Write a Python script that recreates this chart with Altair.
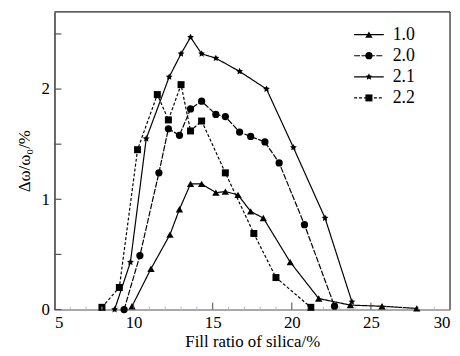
import altair as alt
import pandas as pd

series = ["1.0", "2.0", "2.1", "2.2"]

x10 = [9.9, 11.1, 12.3, 12.9, 13.6, 14.3, 15.2, 15.8, 16.6, 17.4, 18.2, 19.9, 21.7, 23.7, 25.7, 27.9]
y10 = [0.03, 0.37, 0.68, 0.91, 1.14, 1.14, 1.06, 1.07, 1.04, 0.89, 0.83, 0.43, 0.10, 0.04, 0.03, 0.01]

x20 = [9.4, 10.4, 11.6, 12.2, 12.9, 13.6, 14.3, 15.2, 15.8, 16.7, 17.4, 18.3, 19.2, 20.8, 22.7]
y20 = [0.0, 0.49, 1.24, 1.64, 1.58, 1.82, 1.89, 1.77, 1.75, 1.61, 1.57, 1.52, 1.33, 0.77, 0.03]

x21 = [8.8, 9.8, 10.8, 12.25, 13.0, 13.6, 14.3, 15.2, 16.7, 18.4, 20.1, 22.1, 23.8]
y21 = [0.0, 0.43, 1.55, 2.11, 2.32, 2.47, 2.32, 2.28, 2.16, 2.0, 1.47, 0.83, 0.07]

x22 = [8.0, 9.1, 10.25, 11.5, 12.2, 13.0, 13.6, 14.3, 15.8, 17.6, 19.0, 21.2]
y22 = [0.02, 0.2, 1.45, 1.95, 1.72, 2.04, 1.62, 1.71, 1.24, 0.69, 0.29, 0.02]

x_labels = [5, 10, 15, 20, 25, 30]
x_minor = [6, 7, 8, 9, 11, 12, 13, 14, 16, 17, 18, 19, 21, 22, 23, 24, 26, 27, 28, 29]
y_labels = [0, 1, 2]
y_ticks = [0, 0.5, 1, 1.5, 2, 2.5]

rows = []
for name, xs_, ys_ in zip(series, [x10, x20, x21, x22], [y10, y20, y21, y22]):
    for i, (a, b) in enumerate(zip(xs_, ys_)):
        rows.append({"series": name, "x": a, "y": b, "order": i})
df = pd.DataFrame(rows)

W, H = 400, 301
FONT = "Liberation Serif"
STAR = ("M0,-1L0.294,-0.405L0.951,-0.309L0.476,0.155L0.588,0.809L0,0.5"
        "L-0.588,0.809L-0.476,0.155L-0.951,-0.309L-0.294,-0.405Z")
shapes = ["triangle-up", "circle", STAR, "square"]
sizes = [55, 50, 110, 45]
dashes = [[1, 0], [6, 1.5], [1, 0], [3, 2]]

xsc = alt.Scale(domain=[5, 30], nice=False)
ysc = alt.Scale(domain=[0, 2.7], nice=False)

X = alt.X("x:Q", scale=xsc, axis=alt.Axis(values=x_labels, title="Fill ratio of silica/%", ticks=False,
                                          grid=False, domainColor="#aaaaaa", domainWidth=2,
                                          labelPadding=5, titlePadding=3))
Y = alt.Y("y:Q", scale=ysc, axis=alt.Axis(values=y_labels, title="Δω/ω₀/%", ticks=False, grid=False,
                                          domainColor="black", domainWidth=1.2,
                                          labelPadding=5, titlePadding=8))
Yn = alt.Y("y:Q", scale=ysc, axis=None)

dash_enc = alt.StrokeDash("series:N", scale=alt.Scale(domain=series, range=dashes), legend=None)
shape_enc = alt.Shape("series:N", scale=alt.Scale(domain=series, range=shapes), legend=None)
size_enc = alt.Size("series:N", scale=alt.Scale(domain=series, range=sizes), legend=None)

lines = alt.Chart(df).mark_line(color="black", strokeWidth=1.2).encode(
    x=X, y=Y, strokeDash=dash_enc, detail="series:N", order="order:Q")
points = alt.Chart(df).mark_point(filled=True, color="black", opacity=1).encode(
    x=X, y=Yn, shape=shape_enc, size=size_enc)

ytk = alt.Chart(pd.DataFrame({"y": y_ticks})).mark_rule(color="#555555", strokeWidth=1.2).encode(
    y=Yn, x=alt.value(0), x2=alt.value(7))
xtk = alt.Chart(pd.DataFrame({"x": x_labels[1:-1]})).mark_rule(color="#444444", strokeWidth=1).encode(
    x=X, y=alt.value(H), y2=alt.value(H - 7))
xmn = alt.Chart(pd.DataFrame({"x": x_minor})).mark_rule(color="#bbbbbb", strokeWidth=1).encode(
    x=X, y=alt.value(H), y2=alt.value(H - 3))

top = alt.Chart(pd.DataFrame({"a": [0]})).mark_rule(color="#222222", strokeWidth=1.2).encode(
    x=alt.value(0), x2=alt.value(W), y=alt.value(0))
right = alt.Chart(pd.DataFrame({"a": [0]})).mark_rule(color="#222222", strokeWidth=1.2).encode(
    x=alt.value(W), y=alt.value(0), y2=alt.value(H))

leg = pd.DataFrame({"series": series, "idx": [0, 1, 2, 3]})
LY = alt.Y("idx:Q", scale=alt.Scale(domain=[0, 3], range=[23, 87]), axis=None)
leg_line = alt.Chart(leg).mark_rule(color="black", strokeWidth=1.2).encode(
    y=LY, x=alt.value(303), x2=alt.value(333), strokeDash=dash_enc)
leg_pt = alt.Chart(leg).mark_point(filled=True, color="black", opacity=1).encode(
    y=LY, x=alt.value(318), shape=shape_enc, size=size_enc)
leg_txt = alt.Chart(leg).mark_text(align="left", baseline="middle", font=FONT, fontSize=18,
                                   color="black").encode(
    y=LY, x=alt.value(342), text="series:N")

chart = alt.layer(lines, points, ytk, xtk, xmn, top, right, leg_line, leg_pt, leg_txt).resolve_scale(
    y="independent"
).properties(
    width=W, height=H,
    autosize=alt.AutoSizeParams(type="none"),
    padding={"left": 47, "top": 2, "right": 2, "bottom": 40},
).configure_view(stroke=None).configure_axis(
    labelFont=FONT, titleFont=FONT, labelFontSize=17, titleFontSize=17,
    labelColor="black", titleColor="black", titleFontWeight="normal",
)

chart.save("out.html", embed_options={"renderer": "svg", "actions": False})
